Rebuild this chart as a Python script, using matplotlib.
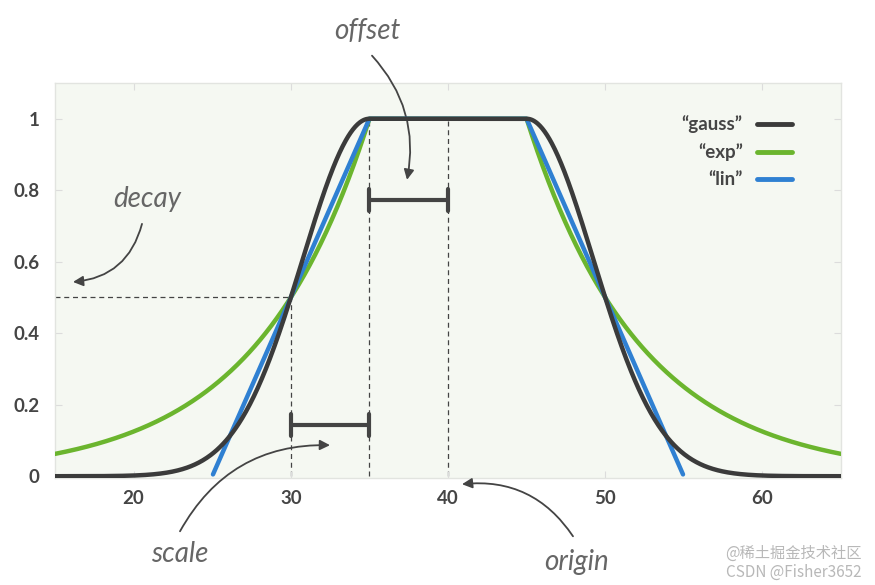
import numpy as np
import matplotlib
matplotlib.use("Agg")
import matplotlib.pyplot as plt

# --- chart data (decay function parameters) ---
origin = 40.0
offset = 5.0
scale = 5.0
decay = 0.5
x_range = [15, 65]
y_range = [-0.005, 1.1]
x_ticks = [20, 30, 40, 50, 60]
y_ticks = [0, 0.2, 0.4, 0.6, 0.8, 1.0]
y_tick_labels = ["0", "0.2", "0.4", "0.6", "0.8", "1"]
series_names = ["\u201cgauss\u201d", "\u201cexp\u201d", "\u201clin\u201d"]
series_colors = ["#3b3b3b", "#6bb52e", "#2f80d2"]
offset_bar_y = 0.773
scale_bar_y = 0.143

x = np.linspace(x_range[0], x_range[1], 1001)
d = np.maximum(0, np.abs(x - origin) - offset)
sigma2 = -scale ** 2 / (2 * np.log(decay))
gauss = np.exp(-d ** 2 / (2 * sigma2))
expo = np.exp(np.log(decay) / scale * d)
s_lin = scale / (1.0 - decay)
lin = np.maximum(0, (s_lin - d) / s_lin)
lin_mask = lin > 0

fig = plt.figure(figsize=(8.75, 5.85), dpi=100)
ax = fig.add_axes([55 / 875, 1 - 478 / 585, (841 - 55) / 875, (478 - 83) / 585])
ax.set_facecolor("#f5f8f2")
ax.set_xlim(*x_range)
ax.set_ylim(*y_range)

for sp in ax.spines.values():
    sp.set_color("#e2e4e0")
    sp.set_linewidth(1.0)

ax.set_xticks(x_ticks)
ax.set_yticks(y_ticks)
ax.set_yticklabels(y_tick_labels)
ax.tick_params(direction="in", length=5, color="#dcdcdc", top=True, right=True,
               labelsize=13.5, labelcolor="#454545")
ax.tick_params(axis="y", pad=11)
ax.tick_params(axis="x", pad=9)
for lab in ax.get_xticklabels() + ax.get_yticklabels():
    lab.set_fontweight("bold")
    lab.set_family("Lato")

# dashed guides
dk = dict(color="#444444", lw=0.9, ls=(0, (4, 3)), zorder=1)
ax.plot([x_range[0], origin - offset - scale], [decay, decay], **dk)
ax.plot([origin - offset - scale] * 2, [0, decay], **dk)
ax.plot([origin - offset] * 2, [0, 1], **dk)
ax.plot([origin] * 2, [0, 1], **dk)

# curves
ax.plot(x, expo, color=series_colors[1], lw=3.2, solid_capstyle="round", zorder=3)
xl = x[lin_mask]
yl = lin[lin_mask]
ax.plot(np.concatenate([xl[xl < origin], [np.nan], xl[xl > origin]]),
        np.concatenate([yl[xl < origin], [np.nan], yl[xl > origin]]),
        color=series_colors[2], lw=3.2, solid_capstyle="round", zorder=4)
ax.plot(x, gauss, color=series_colors[0], lw=3.2, solid_capstyle="round", zorder=5)

# offset / scale bars
bk = dict(color="#444444", lw=3, solid_capstyle="butt", zorder=6)
cap = 0.03
for (a, b), yb in [((origin - offset, origin), offset_bar_y),
                   ((origin - offset - scale, origin - offset), scale_bar_y)]:
    ax.plot([a, b], [yb, yb], **bk)
    ax.plot([a, a], [yb - cap, yb + cap], color="#444444", lw=3, solid_capstyle="round", zorder=6)
    ax.plot([b, b], [yb - cap, yb + cap], color="#444444", lw=3, solid_capstyle="round", zorder=6)

# legend (manual)
leg_y = [0.897, 0.826, 0.756]
for name, col, yy in zip(series_names, series_colors, leg_y):
    ax.text(0.875, yy, name, transform=ax.transAxes, ha="right", va="center",
            fontsize=13.5, fontweight="bold", color="#454545", family="Lato")
    ax.plot([0.893, 0.938], [yy, yy], transform=ax.transAxes, color=col, lw=3.5,
            solid_capstyle="round")

# annotations
afont = dict(fontsize=20, style="italic", color="#666666", family="Lato")
ap = dict(arrowstyle="-|>,head_length=0.6,head_width=0.3", color="#444444", lw=1.3,
          shrinkA=0, shrinkB=0)

def px2data(px, py):
    xd = x_range[0] + (px - 55) / (841 - 55) * (x_range[1] - x_range[0])
    yd = (477 - py) / 357.0
    return xd, yd

ax.text(*px2data(367, 32), "offset", ha="center", va="center", **afont)
ax.annotate("", xy=px2data(407, 181), xytext=px2data(372, 57), annotation_clip=False,
            arrowprops=dict(connectionstyle="arc3,rad=-0.25", **ap))
ax.text(*px2data(147, 200), "decay", ha="center", va="center", **afont)
ax.annotate("", xy=px2data(73, 283), xytext=px2data(142, 225), annotation_clip=False,
            arrowprops=dict(connectionstyle="arc3,rad=-0.35", **ap))
ax.text(*px2data(180, 555), "scale", ha="center", va="center", **afont)
ax.annotate("", xy=px2data(330, 446), xytext=px2data(180, 532), annotation_clip=False,
            arrowprops=dict(connectionstyle="arc3,rad=-0.3", **ap))
ax.text(*px2data(577, 563), "origin", ha="center", va="center", **afont)
ax.annotate("", xy=px2data(462, 485), xytext=px2data(573, 537), annotation_clip=False,
            arrowprops=dict(connectionstyle="arc3,rad=0.3", **ap))

# watermark
wf = dict(ha="right", va="center", fontsize=11, color="#b8b8b8",
          family=["Noto Sans CJK SC", "DejaVu Sans"])
fig.text(862 / 875, 1 - 553 / 585, "@稀土掘金技术社区", **wf)
fig.text(862 / 875, 1 - 572 / 585, "CSDN @Fisher3652", **wf)

fig.savefig("out.png", dpi=100, facecolor="white")
